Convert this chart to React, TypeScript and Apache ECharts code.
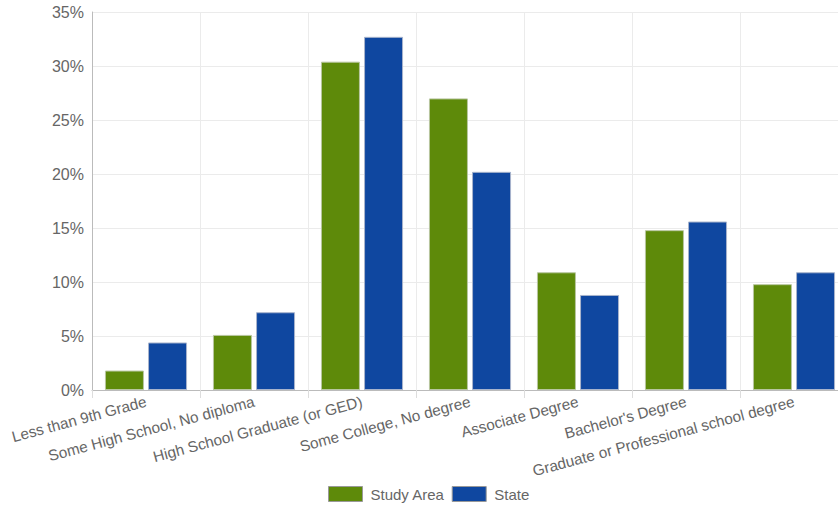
import React, { useEffect, useRef } from "react";
import * as echarts from "echarts";

const categories = [
  "Less than 9th Grade",
  "Some High School, No diploma",
  "High School Graduate (or GED)",
  "Some College, No degree",
  "Associate Degree",
  "Bachelor's Degree",
  "Graduate or Professional school degree",
];
const studyArea = [1.8, 5.1, 30.4, 27.0, 10.9, 14.8, 9.8];
const stateVals = [4.4, 7.2, 32.7, 20.2, 8.8, 15.6, 10.9];

const FONT = "'Liberation Sans', Arial, sans-serif";

export default function App() {
  const ref = useRef<HTMLDivElement>(null);
  useEffect(() => {
    if (!ref.current) return;
    const chart = echarts.init(ref.current, null, { renderer: "svg" });
    chart.setOption({
      animation: false,
      textStyle: { fontFamily: FONT },
      grid: {
        left: 92,
        top: 12,
        height: 378,
        width: 756,
        containLabel: false,
        outerBoundsMode: "none",
      },
      legend: {
        top: 481,
        left: 323,
        icon: "rect",
        itemWidth: 34,
        itemHeight: 15,
        itemGap: 7,
        textStyle: { color: "#666", fontSize: 15, fontFamily: FONT, padding: [0, 0, 0, 3] },
        data: [
          { name: "Study Area", itemStyle: { borderColor: "#999", borderWidth: 1 } },
          { name: "State", itemStyle: { borderColor: "#999", borderWidth: 1 } },
        ],
      },
      xAxis: {
        type: "category",
        data: categories,
        axisLine: { lineStyle: { color: "#bbb" } },
        axisTick: { show: true, length: 8, lineStyle: { color: "#ddd" } },
        splitLine: { show: true, lineStyle: { color: "#ebebeb" } },
        axisLabel: {
          rotate: 15,
          interval: 0,
          color: "#666",
          fontSize: 15.3,
          fontFamily: FONT,
          margin: 11,
        },
      },
      yAxis: {
        type: "value",
        min: 0,
        max: 35,
        interval: 5,
        axisLine: { show: true, lineStyle: { color: "#bbb" } },
        axisTick: { show: false },
        splitLine: { lineStyle: { color: "#ebebeb" } },
        axisLabel: {
          formatter: "{value}%",
          color: "#666",
          fontSize: 16,
          fontFamily: FONT,
          margin: 8,
        },
      },
      series: [
        {
          name: "Study Area",
          type: "bar",
          data: studyArea,
          barWidth: 39,
          barGap: "10.5%",
          itemStyle: { color: "#5e8a0a", borderColor: "#b8c6a0", borderWidth: 1 },
        },
        {
          name: "State",
          type: "bar",
          data: stateVals,
          barWidth: 39,
          itemStyle: { color: "#0f47a0", borderColor: "#a8b4cc", borderWidth: 1 },
        },
      ],
    });
    return () => chart.dispose();
  }, []);
  return <div ref={ref} style={{ width: 838, height: 508, position: "absolute", left: 0, top: 0 }} />;
}
